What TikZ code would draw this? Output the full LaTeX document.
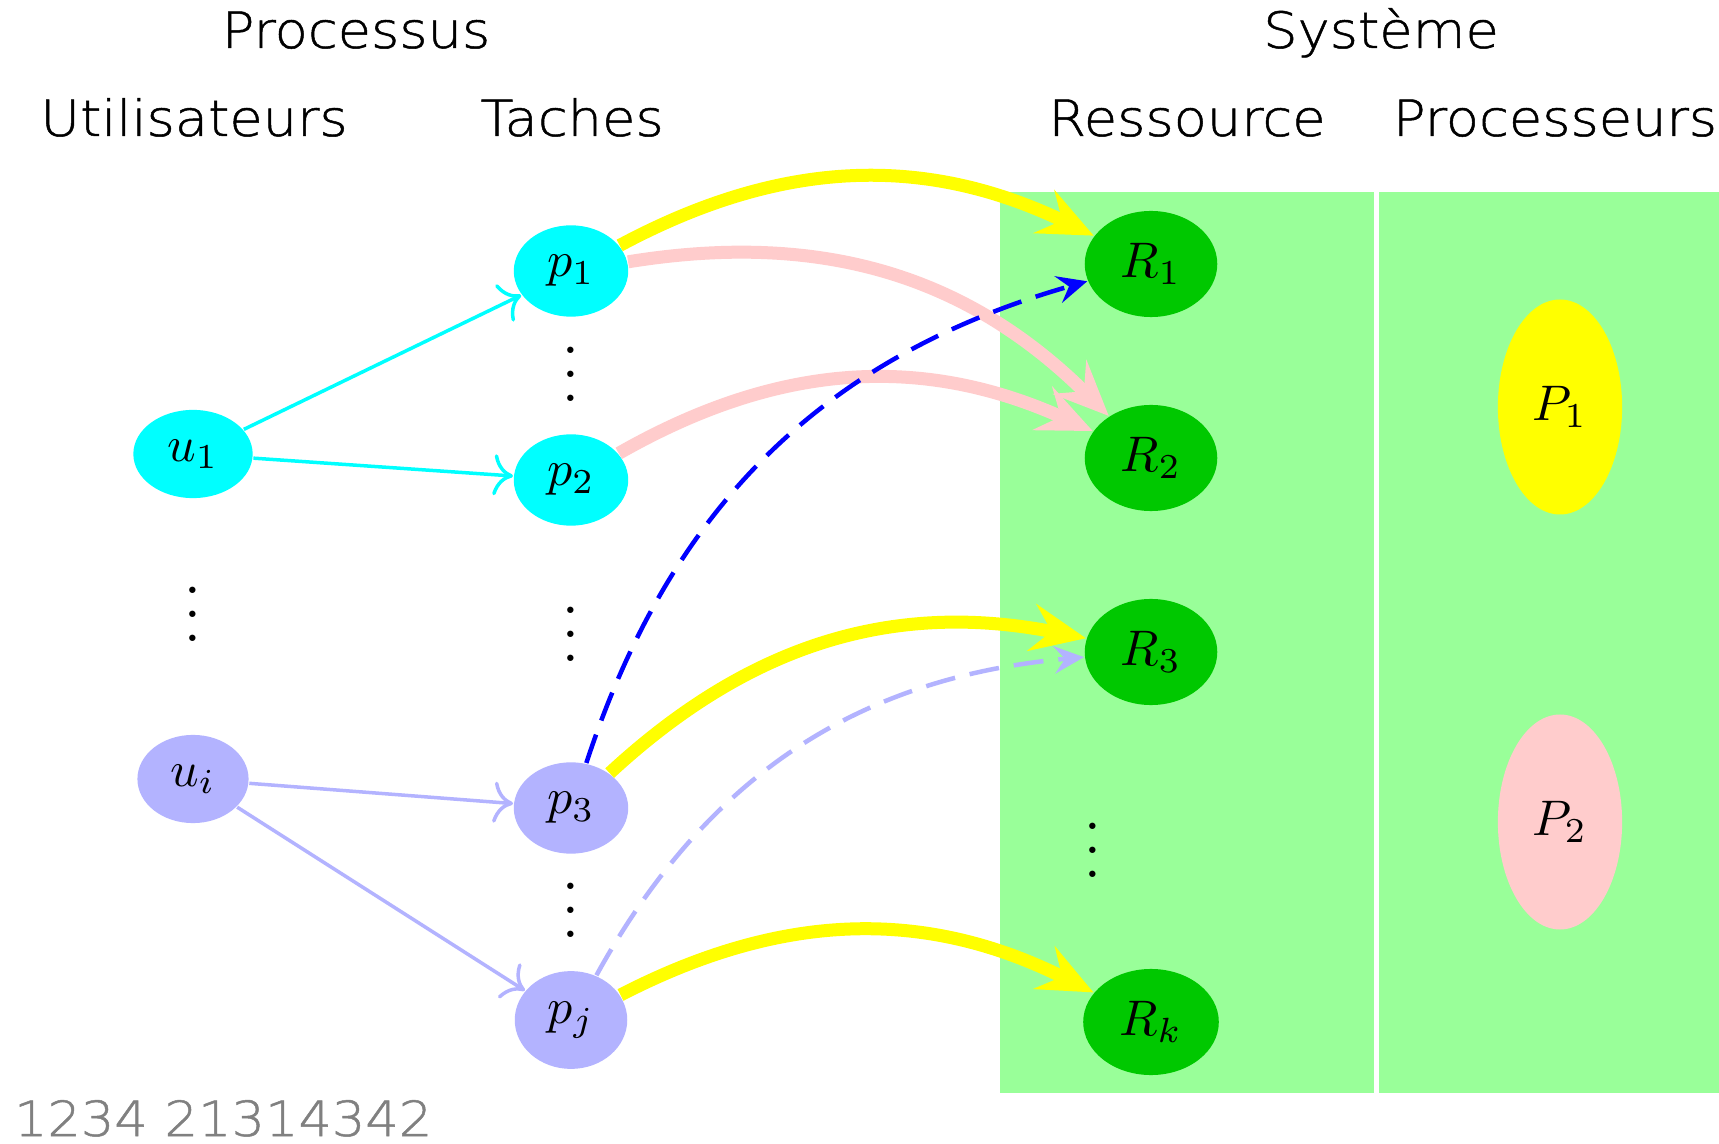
\documentclass[tikz,border=0pt]{standalone}
\usepackage{fontspec}
\usetikzlibrary{shapes.geometric,arrows.meta}
\IfFontExistsTF{DejaVu Sans ExtraLight}
  {\newfontfamily\lab{DejaVu Sans ExtraLight}[FakeStretch=1.085, FakeBold=1]}
  {\newfontfamily\lab{DejaVu Sans}[FakeStretch=1.06]}
\definecolor{ucyan}{RGB}{0,255,255}
\definecolor{uyellow}{RGB}{255,255,0}
\definecolor{ulav}{RGB}{179,179,255}
\definecolor{upink}{RGB}{255,204,204}
\definecolor{ugreen}{RGB}{0,200,0}
\definecolor{ulight}{RGB}{153,255,153}
\begin{document}
\begin{tikzpicture}[x=0.2pt,y=-0.2pt,
  circ/.style={ellipse, draw=none, inner sep=.3333em},
  thinarrow/.style={-{To[scale=1.25]}, line width=0.7pt},
  bigarrow/.style={-{Stealth[length=11pt, width=9.5pt, inset=4pt]}, line width=2.6pt, bend left=27},
  dasharrow/.style={-{Stealth[length=6pt, width=5.5pt, inset=2.2pt]}, line width=0.9pt, dash pattern=on 6pt off 3pt, bend left=28},
  toplab/.style={font=\lab\fontsize{10}{12}\selectfont, anchor=base, inner sep=0pt},
  vd/.style={anchor=base, inner sep=0pt},
]
\useasboundingbox (0,0) rectangle (1719,1144);
\fill[white] (0,0) rectangle (1719,1144);
% background panels
\fill[ulight] (1000,192) rectangle (1374,1093);
\fill[ulight] (1379,192) rectangle (1719,1093);
% headings
\node[toplab] (hproc) at (356,48) {Processus};
\node[toplab] (hsys) at (1381,48) {Système};
\node[toplab] (huser) at (194,136) {Utilisateurs};
\node[toplab] (htask) at (572,136) {Taches};
\node[toplab] (hres) at (1187,136) {Ressource};
\node[toplab] (hcpu) at (1555,136) {Processeurs};
% users
\node[circ, fill=ucyan] (u1) at (193,454) {$u_1$};
\node[circ, fill=ulav] (ui) at (193,779) {$u_i$};
% tasks
\node[circ, fill=ucyan] (p1) at (571,271) {$p_1$};
\node[circ, fill=ucyan] (p2) at (571,480) {$p_2$};
\node[circ, fill=ulav] (p3) at (571,808) {$p_3$};
\node[circ, fill=ulav] (pj) at (571,1020) {$p_j$};
% resources
\node[circ, fill=ugreen] (R1) at (1151,264) {$R_1$};
\node[circ, fill=ugreen] (R2) at (1151,458) {$R_2$};
\node[circ, fill=ugreen] (R3) at (1151,652) {$R_3$};
\node[circ, fill=ugreen] (Rk) at (1151,1022) {$R_k$};
% processors
\node[circ, fill=uyellow, minimum width=24.6pt, minimum height=43pt] (P1) at (1560,407) {$P_1$};
\node[circ, fill=upink, minimum width=24.6pt, minimum height=43pt] (P2) at (1560,822) {$P_2$};
% vertical dots
\node[vd] (d1) at (571,402) {\scalebox{1.2}{$\vdots$}};
\node[vd] (d2) at (193,641) {\scalebox{1.2}{$\vdots$}};
\node[vd] (d3) at (571,662) {\scalebox{1.2}{$\vdots$}};
\node[vd] (d4) at (571,937) {\scalebox{1.2}{$\vdots$}};
\node[vd] (d5) at (1093,877) {\scalebox{1.2}{$\vdots$}};
% footer
\node[anchor=base west, inner sep=0pt, text=gray, font=\lab\fontsize{9.7}{12}\selectfont] (foot) at (13,1136) {1234 21314342};
% user -> task
\draw[thinarrow, ucyan] (u1) -- (p1);
\draw[thinarrow, ucyan] (u1) -- (p2);
\draw[thinarrow, ulav] (ui) -- (p3);
\draw[thinarrow, ulav] (ui) -- (pj);
% task -> resource
\draw[bigarrow, uyellow] (p1) to (R1);
\draw[bigarrow, upink] (p1) to (R2);
\draw[bigarrow, upink] (p2) to (R2);
\draw[bigarrow, uyellow] (p3) to (R3);
\draw[bigarrow, uyellow] (pj) to (Rk);
\draw[dasharrow, blue] (p3) to (R1);
\draw[dasharrow, ulav] (pj) to (R3);
\end{tikzpicture}
\end{document}
